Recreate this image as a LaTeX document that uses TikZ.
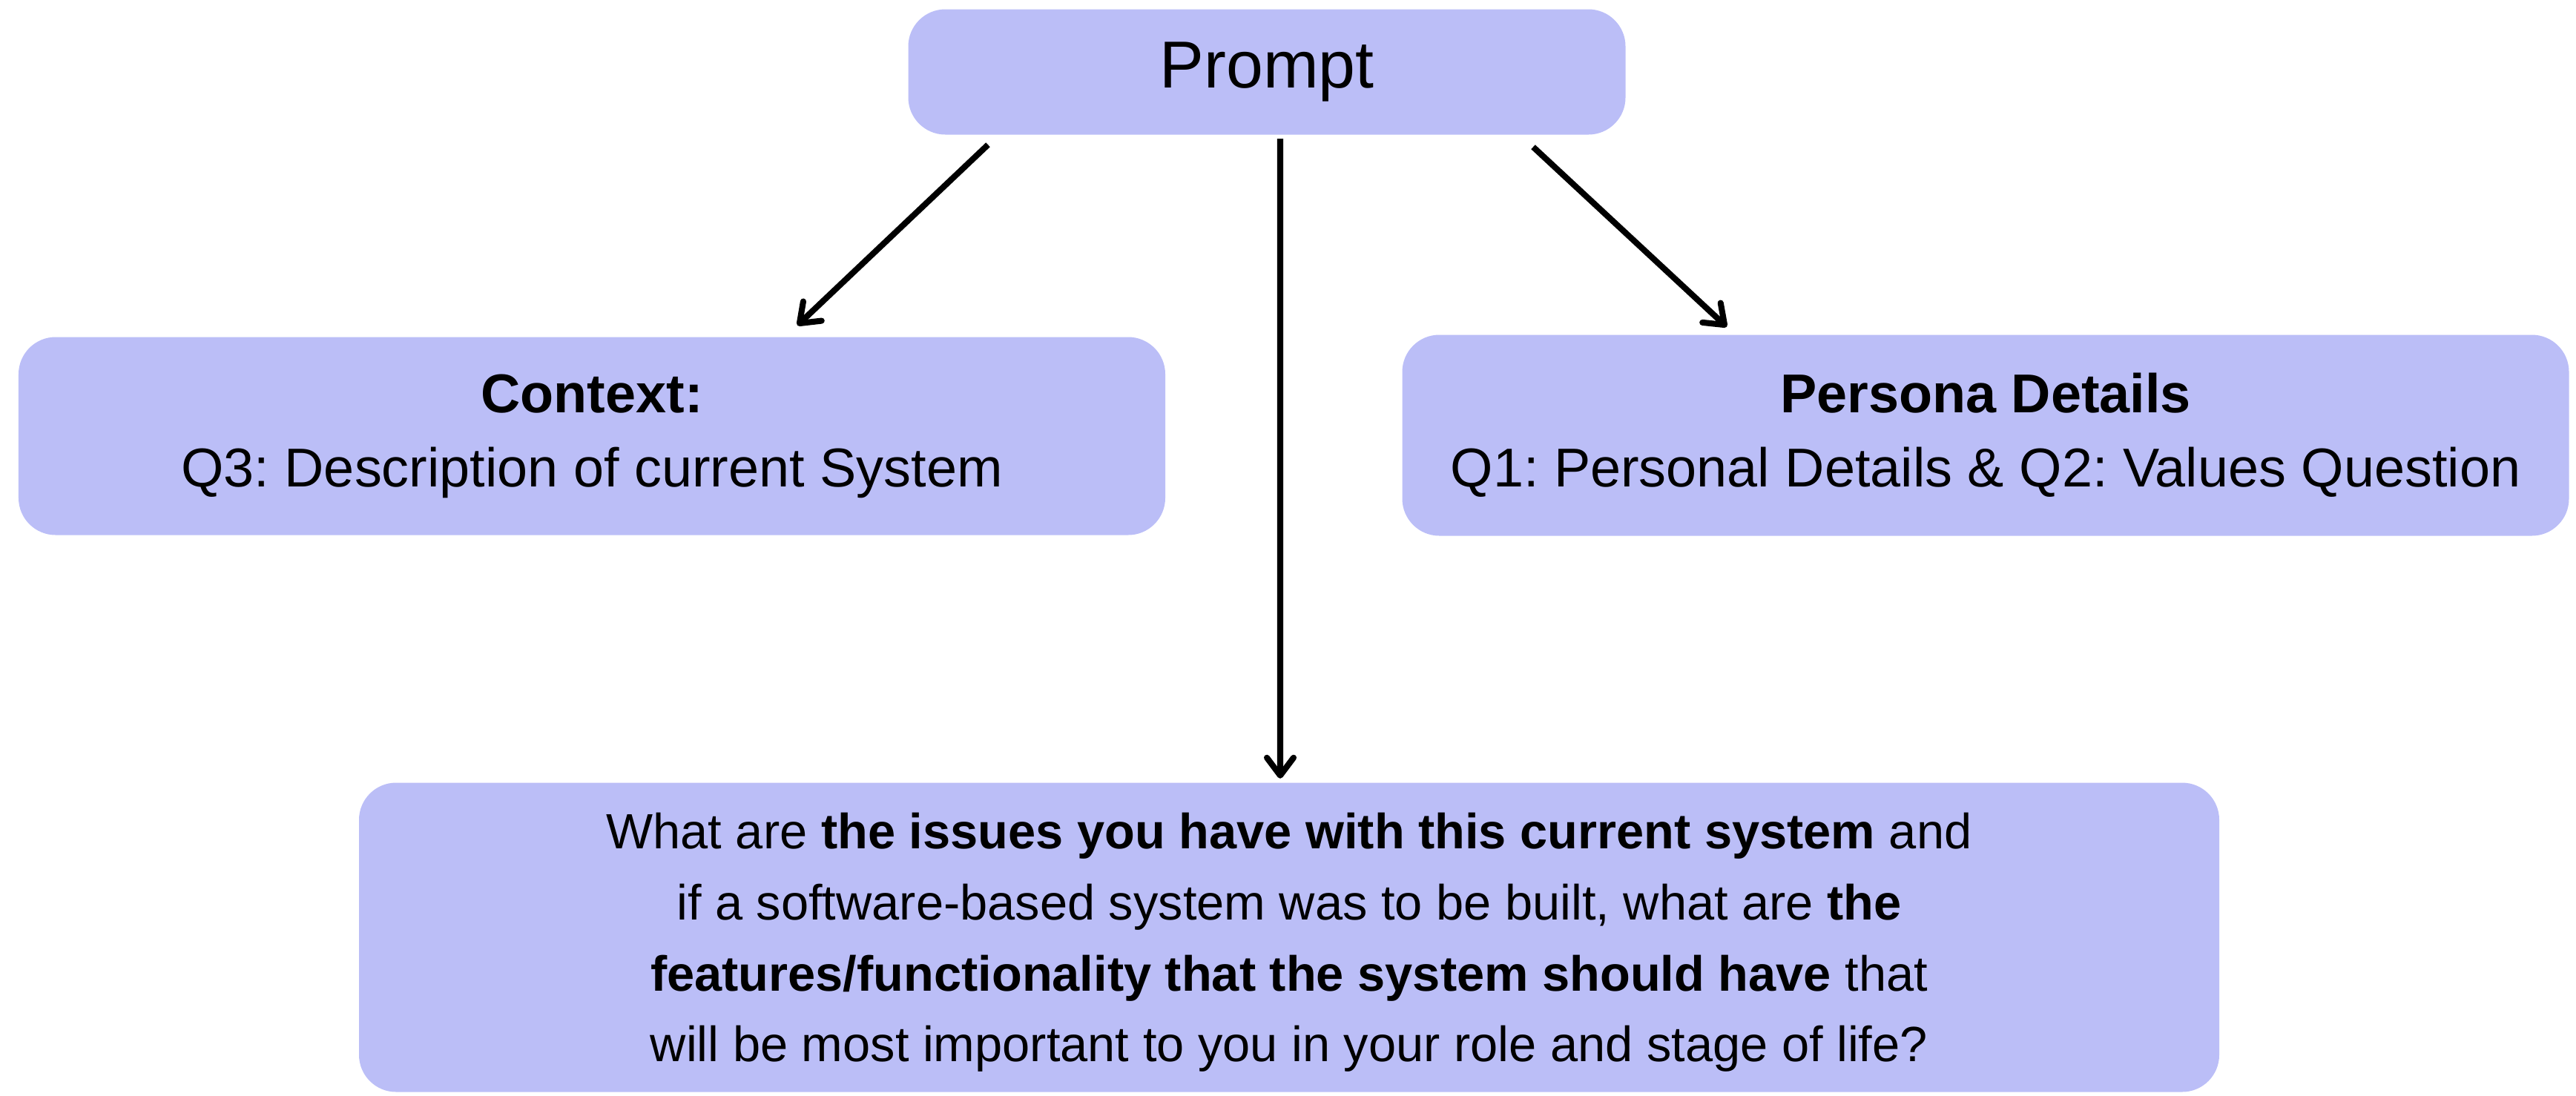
\documentclass[tikz,border=0pt]{standalone}
\usepackage{fontspec}
\setmainfont{Liberation Sans}
\frenchspacing
\usetikzlibrary{arrows.meta}

\definecolor{boxblue}{HTML}{BBBEF7}

\begin{document}
\begin{tikzpicture}[
  box/.style={fill=boxblue, rounded corners=0.5cm, align=center, inner sep=0pt},
  arrow/.style={-{Straight Barb[length=2.4mm, width=3.6mm, round]}, line width=2.3pt}
]
\useasboundingbox (0,0) rectangle (34.73,-14.77);
\node[box, minimum width=9.67cm, minimum height=1.69cm, font=\fontsize{25.5}{30}\selectfont] (prompt) at (17.08,-0.97) {Prompt};
\node[box, minimum width=15.46cm, minimum height=2.67cm, font=\fontsize{21}{28.5}\selectfont] (context) at (7.98,-5.88) {\textbf{Context:}\\Q3: Description of current System};
\node[box, minimum width=15.73cm, minimum height=2.71cm, font=\fontsize{21}{28.5}\selectfont] (persona) at (26.77,-5.87) {\textbf{Persona Details}\\Q1: Personal Details \& Q2: Values Question};
\node[box, minimum width=25.08cm, minimum height=4.17cm, text depth=-0.3cm, font=\fontsize{19}{27.2}\selectfont] (question) at (17.38,-12.64) {What are \textbf{the issues you have with this current system} and\\if a software-based system was to be built, what are \textbf{the}\\\textbf{features/functionality that the system should have} that\\will be most important to you in your role and stage of life?};
% connectors
\draw[arrow] ([xshift=-3.76cm,yshift=-0.13cm]prompt.south) -- ([xshift=2.77cm,yshift=0.15cm]context.north);
\draw[arrow] ([xshift=0.18cm,yshift=-0.05cm]prompt.south) -- ([xshift=-0.12cm,yshift=0.05cm]question.north);
\draw[arrow] ([xshift=3.59cm,yshift=-0.16cm]prompt.south) -- ([xshift=-3.49cm,yshift=0.10cm]persona.north);
\end{tikzpicture}
\end{document}
